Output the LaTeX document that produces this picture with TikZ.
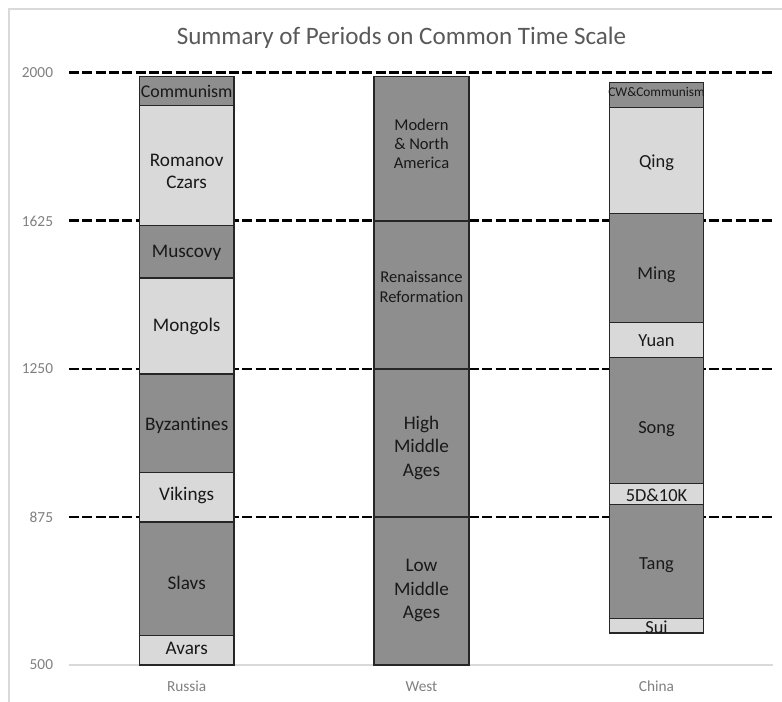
\documentclass[tikz,border=0pt]{standalone}
\usepackage{fontspec}
\setmainfont{Carlito}[Ligatures={NoCommon}]
\definecolor{dkbar}{HTML}{8E8E8E}
\definecolor{ltbar}{HTML}{D9D9D9}
\definecolor{axistxt}{HTML}{7F7F7F}
\definecolor{titletxt}{HTML}{595959}
\tikzset{
  bar/.style={draw=black!85, line width=1.1pt},
  seglabel/.style={align=center, inner sep=0pt, text=black!90},
  axlabel/.style={inner sep=0pt, text=axistxt, font=\fontsize{11.5}{13}\selectfont},
  timeline/.style={line width=2.2pt, dash pattern=on 7.5pt off 2.5pt},
}

\begin{document}
\begin{tikzpicture}[x=0.75pt, y=0.296pt]
  \useasboundingbox (0,406.25) rectangle (782,2184.9);
  \draw[ltbar, line width=1.2pt] (9,406.25) -- (9,2162) -- (782,2162);
  \node[font=\fontsize{18.8}{22}\selectfont, text=titletxt] (title) at (401.5,2088.7) {Summary of Periods on Common Time Scale};

  % time scale
  \draw[ltbar, line width=1.2pt] (69,500) -- (773,500);
  \node[axlabel, anchor=east] (t500) at (53.3,500) {500};
  \foreach \yr in {875,1250,1625,2000} {
    \draw[timeline] (69,\yr) -- (773,\yr);
    \node[axlabel, anchor=east] (t\yr) at (53.3,\yr) {\yr};
  }

  % Russia
  \foreach \lo/\hi/\fc/\ty/\fs/\bs/\txt [count=\i] in {
      500/575/ltbar/542/14.4/16.5/Avars,
      575/862/dkbar/708/14.4/16.5/Slavs,
      862/988/ltbar/929/14.4/16.5/Vikings,
      988/1237/dkbar/1107/14.4/16.5/Byzantines,
      1237/1480/ltbar/1357/14.4/16.5/Mongols,
      1480/1613/dkbar/1543/14.4/16.5/Muscovy,
      1613/1917/ltbar/1750/14.4/16.5/{Romanov\\Czars},
      1917/1991/dkbar/1953/13.4/15/Communism} {
    \draw[bar, fill=\fc] (139.3,\lo) rectangle (234,\hi);
    \node[seglabel, font=\fontsize{\fs}{\bs}\selectfont] (ru\i) at (186.7,\ty) {\txt};
  }

  % West
  \foreach \lo/\hi/\ty/\fs/\bs/\txt [count=\i] in {
      500/875/688/14.4/17.5/{Low\\Middle\\Ages},
      875/1250/1050/14.4/17.5/{High\\Middle\\Ages},
      1250/1625/1458/12.4/15/{Renaissance\\Reformation},
      1625/1991/1820/12.4/14.2/{Modern\\\& North\\America}} {
    \draw[bar, fill=dkbar] (374,\lo) rectangle (469,\hi);
    \node[seglabel, font=\fontsize{\fs}{\bs}\selectfont] (we\i) at (421.5,\ty) {\txt};
  }

  % China
  \draw[bar, fill=ltbar] (609.3,581) rectangle (703.7,618);
  \begin{scope}
    \clip (609.3,583) rectangle (703.7,618);
    \node[seglabel, anchor=base, font=\fontsize{13.8}{16}\selectfont] (cn1) at (656.5,581) {Sui};
  \end{scope}
  \foreach \lo/\hi/\fc/\ty/\fs/\txt [count=\i from 2] in {
      618/907/dkbar/753/13.8/Tang,
      907/960/ltbar/931/13.8/5D\&10K,
      960/1279/dkbar/1097/13.8/Song,
      1279/1368/ltbar/1321/13.8/Yuan,
      1368/1644/dkbar/1488/13.8/Ming,
      1644/1912/ltbar/1772/13.8/Qing,
      1912/1976/dkbar/1953/10/CW\&Communism} {
    \draw[bar, fill=\fc] (609.3,\lo) rectangle (703.7,\hi);
    \node[seglabel, font=\fontsize{\fs}{16}\selectfont] (cn\i) at (656.5,\ty) {\txt};
  }

  % categories
  \node[axlabel] (russia) at (186.7,445) {Russia};
  \node[axlabel] (west) at (421.5,445) {West};
  \node[axlabel] (china) at (656.5,445) {China};
\end{tikzpicture}
\end{document}
